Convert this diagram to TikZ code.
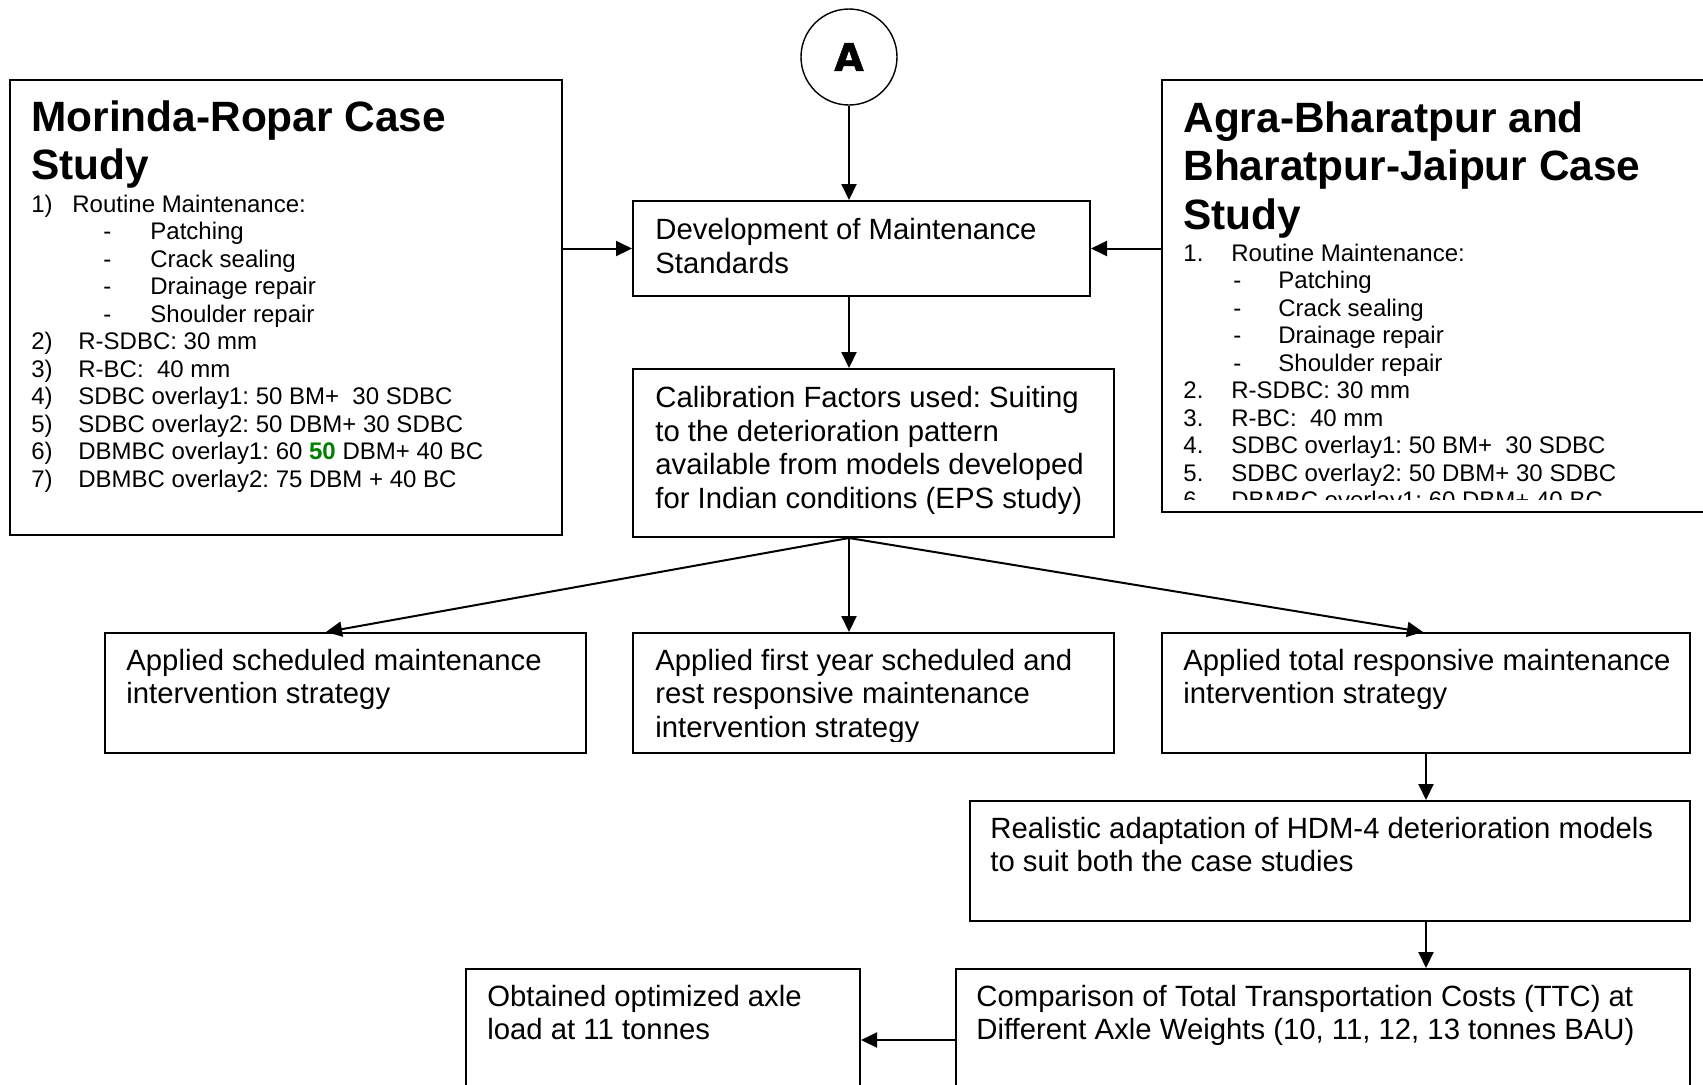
\documentclass[tikz,border=0pt]{standalone}
\usepackage{fontspec}
\setmainfont{Liberation Sans}
\newfontfamily\dvfont{DejaVu Sans}[BoldFeatures={FakeBold=1.5}]
\usetikzlibrary{arrows.meta,calc}
\definecolor{dkgreen}{RGB}{0,128,0}
\tikzset{
  box/.style={draw, line width=1pt, rectangle, inner sep=0pt},
  txt/.style={inner sep=0pt, anchor=base west, font=\fontsize{14.65}{16.85}\selectfont},
  sm/.style={inner sep=0pt, anchor=base west, font=\fontsize{12}{13.75}\selectfont},
  ttl/.style={inner sep=0pt, anchor=base west, font=\fontsize{21.2}{24}\selectfont\bfseries},
  arr/.style={line width=1pt, -{Triangle[length=8pt,width=7.5pt]}}
}
\frenchspacing
\begin{document}
\frenchspacing
\begin{tikzpicture}[x=0.5pt,y=-0.5pt]
\useasboundingbox (0,0) rectangle (1703,1084);
\clip (0,0) rectangle (1703,1084);
\fill[white] (0,0) rectangle (1703,1084);

% boxes
\node[circle, draw, line width=0.7pt, minimum size=48pt, inner sep=0pt, font=\dvfont\bfseries\fontsize{19}{19}\selectfont] (A) at (849,57) {A};
\node[box, minimum width=276pt, minimum height=227.5pt] (L) at (286,307.5) {};
\node[box, minimum width=279pt, minimum height=216pt] (R) at (1441,296) {};
\node[box, minimum width=228.5pt, minimum height=47.5pt] (Dev) at (861.5,248.5) {};
\node[box, minimum width=240.5pt, minimum height=84pt] (Cal) at (873.5,453) {};
\node[box, minimum width=240.5pt, minimum height=60pt] (B1) at (345.5,693) {};
\node[box, minimum width=240.5pt, minimum height=60pt] (B2) at (873.5,693) {};
\node[box, minimum width=264pt, minimum height=60pt] (B3) at (1426,693) {};
\node[box, minimum width=360pt, minimum height=60pt] (Real) at (1330,861) {};
\node[box, minimum width=367pt, minimum height=71pt] (Cmp) at (1323,1040) {};
\node[box, minimum width=197pt, minimum height=71pt] (Obt) at (663,1040) {};

% box texts
\node[txt] (dev1) at (655,239.5) {Development of Maintenance};
\node[txt] (dev2) at (655,273.2) {Standards};
\node[txt] (cal1) at (655,407.5) {Calibration Factors used: Suiting};
\node[txt] (cal2) at (655,441.2) {to the deterioration pattern};
\node[txt] (cal3) at (655,474.9) {available from models developed};
\node[txt] (cal4) at (655,508.6) {for Indian conditions (EPS study)};
\node[txt] (b11) at (126,670) {Applied scheduled maintenance};
\node[txt] (b12) at (126,703.7) {intervention strategy};
\node[txt] (b21) at (655,670) {Applied first year scheduled and};
\node[txt] (b22) at (655,703.7) {rest responsive maintenance};
\begin{scope}
\clip (640,712) rectangle (1110,741);
\node[txt] (b23) at (655,737.4) {intervention strategy};
\end{scope}
\node[txt] (b31) at (1183,670) {Applied total responsive maintenance};
\node[txt] (b32) at (1183,703.7) {intervention strategy};
\node[txt] (re1) at (990,838) {Realistic adaptation of HDM-4 deterioration models};
\node[txt] (re2) at (990,871.7) {to suit both the case studies};
\node[txt] (cm1) at (976,1006) {Comparison of Total Transportation Costs (TTC) at};
\node[txt] (cm2) at (976,1039.7) {Different Axle Weights (10, 11, 12, 13 tonnes BAU)};
\node[txt] (ob1) at (487,1006) {Obtained optimized axle};
\node[txt] (ob2) at (487,1039.7) {load at 11 tonnes};

% left case study
\node[ttl] (lt1) at (31,131) {Morinda-Ropar Case};
\node[ttl] (lt2) at (31,179) {Study};
\node[sm] (ln1) at (31,212) {1)};
\node[sm] (li1) at (72,212) {Routine Maintenance:};
\node[sm] (ld1) at (103,239.5) {-};
\node[sm] (ls1) at (150,239.5) {Patching};
\node[sm] (ld2) at (103,267) {-};
\node[sm] (ls2) at (150,267) {Crack sealing};
\node[sm] (ld3) at (103,294.5) {-};
\node[sm] (ls3) at (150,294.5) {Drainage repair};
\node[sm] (ld4) at (103,322) {-};
\node[sm] (ls4) at (150,322) {Shoulder repair};
\node[sm] (ln2) at (31,349.5) {2)};
\node[sm] (li2) at (78,349.5) {R-SDBC: 30 mm};
\node[sm] (ln3) at (31,377) {3)};
\node[sm] (li3) at (78,377) {R-BC:~ 40 mm};
\node[sm] (ln4) at (31,404.5) {4)};
\node[sm] (li4) at (78,404.5) {SDBC overlay1: 50 BM+~ 30 SDBC};
\node[sm] (ln5) at (31,432) {5)};
\node[sm] (li5) at (78,432) {SDBC overlay2: 50 DBM+ 30 SDBC};
\node[sm] (ln6) at (31,459.5) {6)};
\node[sm] (li6) at (78,459.5) {DBMBC overlay1: 60 {\bfseries\color{dkgreen}50} DBM+ 40 BC};
\node[sm] (ln7) at (31,487) {7)};
\node[sm] (li7) at (78,487) {DBMBC overlay2: 75 DBM + 40 BC};

% right case study
\node[ttl] (rt1) at (1183,132) {Agra-Bharatpur and};
\node[ttl] (rt2) at (1183,180.5) {Bharatpur-Jaipur Case};
\node[ttl] (rt3) at (1183,229) {Study};
\node[sm] (rn1) at (1183,261) {1.};
\node[sm] (ri1) at (1231,261) {Routine Maintenance:};
\node[sm] (rd1) at (1233,288.5) {-};
\node[sm] (rs1) at (1278,288.5) {Patching};
\node[sm] (rd2) at (1233,316) {-};
\node[sm] (rs2) at (1278,316) {Crack sealing};
\node[sm] (rd3) at (1233,343.5) {-};
\node[sm] (rs3) at (1278,343.5) {Drainage repair};
\node[sm] (rd4) at (1233,371) {-};
\node[sm] (rs4) at (1278,371) {Shoulder repair};
\node[sm] (rn2) at (1183,398.5) {2.};
\node[sm] (ri2) at (1231,398.5) {R-SDBC: 30 mm};
\node[sm] (rn3) at (1183,426) {3.};
\node[sm] (ri3) at (1231,426) {R-BC:~ 40 mm};
\node[sm] (rn4) at (1183,453.5) {4.};
\node[sm] (ri4) at (1231,453.5) {SDBC overlay1: 50 BM+~ 30 SDBC};
\node[sm] (rn5) at (1183,481) {5.};
\node[sm] (ri5) at (1231,481) {SDBC overlay2: 50 DBM+ 30 SDBC};
\begin{scope}
\clip (1170,486) rectangle (1700,499);
\node[sm] (rn6) at (1183,508.5) {6.};
\node[sm] (ri6) at (1231,508.5) {DBMBC overlay1: 60 DBM+ 40 BC};
\end{scope}

% connectors
\draw[arr] (A.south) -- (A.south |- Dev.north);
\draw[arr] (L.east |- Dev.west) -- (Dev.west);
\draw[arr] (R.west |- Dev.east) -- (Dev.east);
\draw[arr] (Dev.south -| A) -- (Cal.north -| A);
\coordinate (fan) at (Cal.south -| A);
\draw[arr] (fan) -- ([xshift=-9.75pt]B1.north);
\draw[arr] (fan) -- (B2.north -| A);
\draw[arr] (fan) -- ([xshift=-1.5pt]B3.north);
\draw[arr] (B3.south) -- (B3.south |- Real.north);
\draw[arr] (B3.south |- Real.south) -- (B3.south |- Cmp.north);
\draw[arr] (Cmp.west) -- (Obt.east);
\end{tikzpicture}
\end{document}
